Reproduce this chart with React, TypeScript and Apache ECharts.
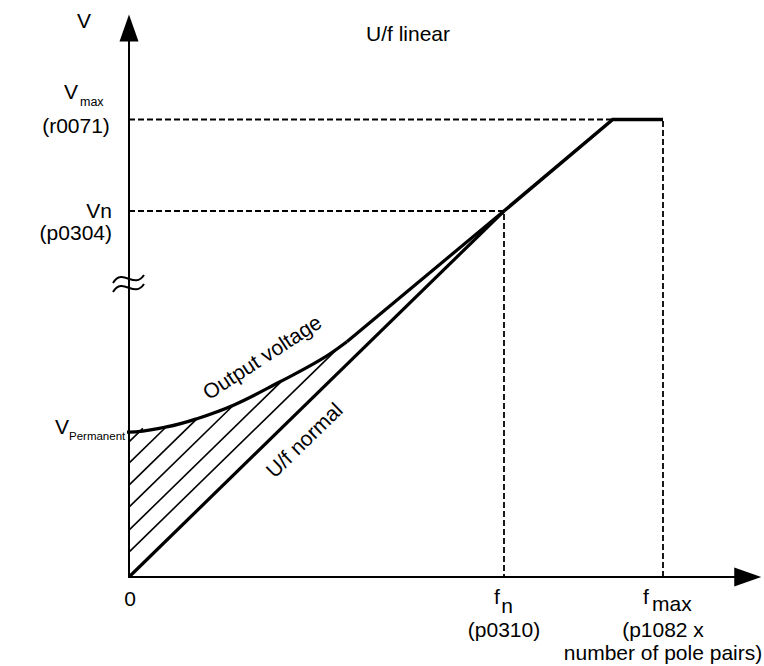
import React, { useEffect, useRef } from "react";
import * as echarts from "echarts";

// Axis extents (frequency in % of fn, voltage in % of Vn)
const F_AXIS_MAX = 165;
const V_AXIS_MAX = 150;

// Characteristic points
const F_N = 100;
const F_CORNER = 129;
const F_MAX = 142.4;
const V_N = 100;
const V_MAX = 125;
const V_PERMANENT = 39.6;

// Output voltage (boost curve)
const outputVoltageF = [-1.9, 0, 10, 18, 28, 40, 51, 58.1];
const outputVoltageV = [39.6, 39.6, 41.0, 43.2, 47.0, 53.2, 59.3, 64.3];

// U/f normal characteristic
const ufNormalF = [0, F_N];
const ufNormalV = [0, V_N];

// Common part above fn
const upperF = [F_N, F_CORNER, F_MAX];
const upperV = [V_N, V_MAX, V_MAX];

// Hatching: lines parallel to U/f normal, V offset at f = 0, and f where they meet the curve
const hatchOffsets = [6.8, 12.8, 19.1, 25.1, 31.1, 36.9];
const hatchEndF = [56.3, 40.3, 27.7, 18.1, 10.1, 3.7];

const FONT = "'Liberation Sans', Arial, Helvetica, sans-serif";
const BLACK = "#000000";
const FS = 21;

const zip = (xs: number[], ys: number[]) => xs.map((x, i) => [x, ys[i]]);

export default function App() {
  const ref = useRef<HTMLDivElement>(null);

  useEffect(() => {
    if (!ref.current) return;
    const chart = echarts.init(ref.current, undefined, { renderer: "svg" });

    const solid = (data: number[][], width: number, extra: any = {}) => ({
      type: "line",
      data,
      symbol: "none",
      silent: true,
      clip: false,
      lineStyle: { color: BLACK, width, cap: "butt", join: "miter" },
      z: 5,
      ...extra,
    });
    const dashed = (data: number[][]) => ({
      type: "line",
      data,
      symbol: "none",
      silent: true,
      clip: false,
      lineStyle: { color: BLACK, width: 1.8, type: [6, 3] },
      z: 2,
    });

    const curvePts = zip(outputVoltageF, outputVoltageV);
    const lastCurve = curvePts[curvePts.length - 1];

    const series: any[] = [
      dashed([[0, V_MAX], [F_CORNER, V_MAX]]),
      dashed([[0, V_N], [F_N, V_N], [F_N, 0]]),
      dashed([[F_MAX, 0], [F_MAX, V_MAX]]),
      solid(zip(ufNormalF, ufNormalV), 3.2),
      solid(zip(upperF, upperV), 3.5),
      solid(curvePts, 3.2, { smooth: 0.4 }),
      solid([lastCurve, [F_N, V_N]], 3.2),
      ...hatchOffsets.map((c, i) =>
        solid([[0, c], [hatchEndF[i], hatchEndF[i] + c]], 1.6, { z: 3 })
      ),
    ];

    const axisCommon = {
      type: "value",
      axisLine: {
        show: true,
        onZero: false,
        symbol: ["none", "triangle"],
        symbolSize: [19, 27],
        lineStyle: { color: BLACK, width: 2 },
      },
      axisTick: { show: false },
      axisLabel: { show: false },
      splitLine: { show: false },
    };

    chart.setOption({
      animation: false,
      backgroundColor: "#ffffff",
      grid: { left: 129, top: 28, bottom: 89, right: 764 - 129 - 618.75, containLabel: false },
      xAxis: { ...axisCommon, min: 0, max: F_AXIS_MAX },
      yAxis: { ...axisCommon, min: 0, max: V_AXIS_MAX },
      series,
    });

    const px = (f: number, v: number) =>
      chart.convertToPixel({ gridIndex: 0 }, [f, v]) as number[];
    const o = px(0, 0);
    const pVmax = px(0, V_MAX);
    const pVn = px(0, V_N);
    const pVperm = px(0, V_PERMANENT);
    const pFn = px(F_N, 0);
    const pFmax = px(F_MAX, 0);

    const t = (
      text: string,
      x: number,
      y: number,
      size = FS,
      align: string = "center",
      rotation = 0
    ) => ({
      type: "text",
      x,
      y,
      rotation,
      silent: true,
      style: {
        text,
        fill: BLACK,
        font: `${size}px ${FONT}`,
        align,
        verticalAlign: "middle",
      },
    });

    chart.setOption({
      graphic: [
        t("V", o[0] - 45, 20),
        t("U/f linear", 408, 33),
        // Vmax
        t("V", 64, pVmax[1] - 28, FS, "left"),
        t("max", 80, pVmax[1] - 18, 12.5, "left"),
        t("(r0071)", 76, pVmax[1] + 6),
        // Vn
        t("Vn", 112, pVn[1] - 1, FS, "right"),
        t("(p0304)", 112, pVn[1] + 21, FS, "right"),
        // V permanent
        t("V", 55, pVperm[1] - 6, FS, "left"),
        t("Permanent", 69, pVperm[1] + 4, 11.5, "left"),
        // origin
        t("0", o[0] + 1, o[1] + 21),
        // fn
        t("f", pFn[0] - 7, o[1] + 19, FS, "center"),
        t("n", pFn[0] + 3, o[1] + 28, FS, "center"),
        t("(p0310)", pFn[0], o[1] + 52),
        // fmax
        t("f", pFmax[0] - 17, o[1] + 19, FS, "center"),
        t("max", pFmax[0] - 11, o[1] + 26, FS, "left"),
        t("(p1082 x", pFmax[0], o[1] + 52),
        t("number of pole pairs)", pFmax[0], o[1] + 75),
        // curve labels
        t("Output voltage", 262, 357, FS, "center", (33 * Math.PI) / 180),
        t("U/f normal", 304, 440, FS, "center", (44 * Math.PI) / 180),
        // axis break
        {
          type: "bezierCurve",
          silent: true,
          shape: { x1: o[0] - 16, y1: 283, cpx1: o[0] - 6, cpy1: 267, cpx2: o[0] + 5, cpy2: 290, x2: o[0] + 15, y2: 275 },
          style: { stroke: BLACK, lineWidth: 2, fill: "none" },
          z: 10,
        },
        {
          type: "bezierCurve",
          silent: true,
          shape: { x1: o[0] - 16, y1: 292, cpx1: o[0] - 6, cpy1: 276, cpx2: o[0] + 5, cpy2: 299, x2: o[0] + 15, y2: 284 },
          style: { stroke: BLACK, lineWidth: 2, fill: "none" },
          z: 10,
        },
      ],
    });

    return () => chart.dispose();
  }, []);

  return (
    <div
      ref={ref}
      style={{ position: "absolute", left: 0, top: 0, width: 764, height: 666, background: "#fff" }}
    />
  );
}
